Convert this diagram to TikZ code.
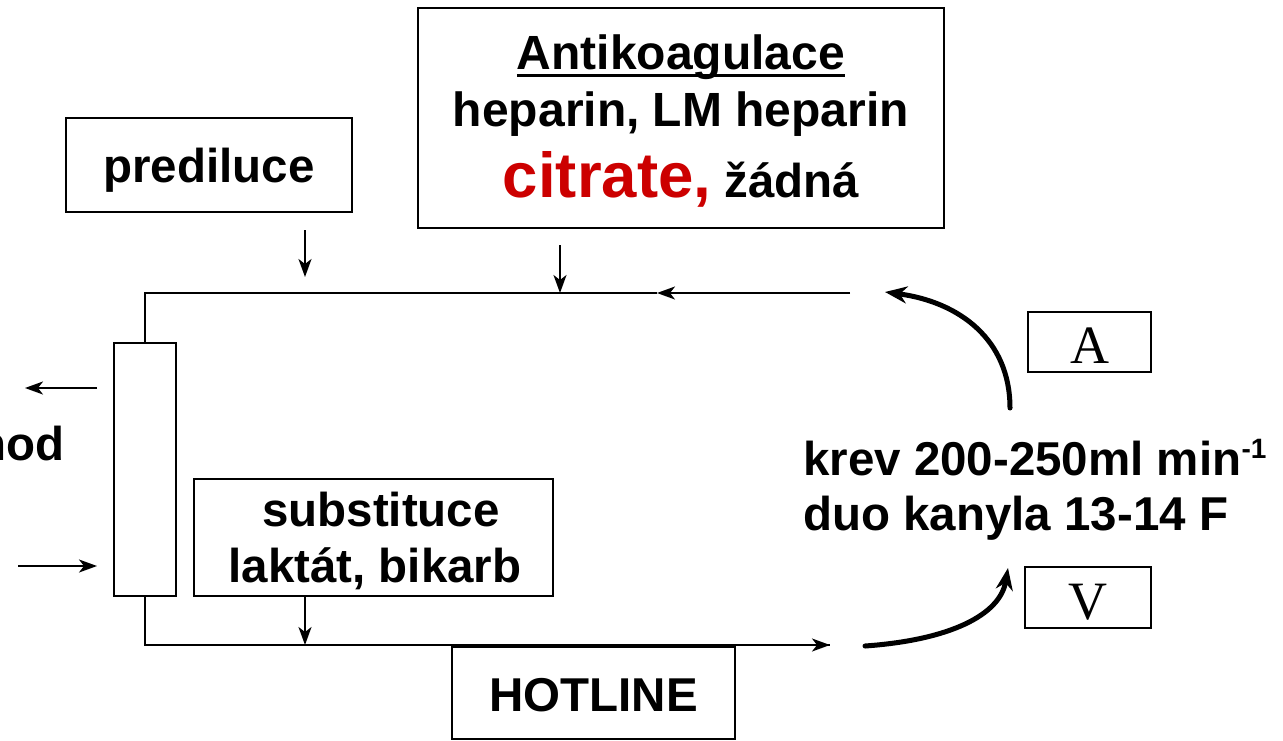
\documentclass[tikz,border=0pt]{standalone}
\usepackage{fontspec}
\setmainfont{Liberation Sans}
\newfontfamily\serifA{Liberation Serif}
\usetikzlibrary{arrows.meta}
\definecolor{citred}{RGB}{204,0,0}
\begin{document}
\begin{tikzpicture}[x=1pt,y=-1pt,
  box/.style={draw, line width=2.5pt, inner sep=0pt, anchor=center},
  thinl/.style={line width=2pt},
  tipa/.style={line width=2pt, -{Stealth[length=18pt,width=13pt,inset=5pt]}},
  bigtip/.style={line width=5pt, line cap=round, -{Stealth[length=22pt,width=17pt,inset=7pt]}},
  lbl/.style={font=\fontsize{47.5}{52}\selectfont\bfseries, inner sep=0pt},
  serl/.style={font=\fontsize{54}{58}\selectfont\serifA, inner sep=0pt}
]
\useasboundingbox (0,0) rectangle (1283,740);
% boxes
\node[box, minimum width=286pt, minimum height=94pt] (pre) at (209,165) {};
\node[box, minimum width=526pt, minimum height=220pt] (anti) at (681,118) {};
\node[box, minimum width=62pt, minimum height=253pt] (filt) at (145,469.5) {};
\node[box, minimum width=359pt, minimum height=117pt] (subst) at (373.5,537.5) {};
\node[box, minimum width=283pt, minimum height=92pt] (hot) at (593.5,693) {};
\node[box, minimum width=123pt, minimum height=60pt] (A) at (1089.5,342) {};
\node[box, minimum width=126pt, minimum height=61pt] (V) at (1088,597.5) {};
% texts
\node[lbl, anchor=base] (preT) at (209,182) {prediluce};
\node[lbl, anchor=base, font=\fontsize{48}{52}\selectfont\bfseries] (antiT1) at (681,69) {Antikoagulace};
\draw[line width=3pt] ([yshift=-6pt]antiT1.base west) -- ([yshift=-6pt]antiT1.base east);
\node[lbl, anchor=base, font=\fontsize{48}{52}\selectfont\bfseries] (antiT2) at (681,126) {heparin, LM heparin};
\node[lbl, anchor=base] (antiT3) at (681,197) {{\fontsize{63.5}{66}\selectfont\color{citred}citrate,} {\fontsize{47.5}{52}\selectfont žádná}};
\node[lbl, anchor=base] (subT1) at (381,526) {substituce};
\node[lbl, anchor=base] (subT2) at (375,582) {laktát, bikarb};
\node[lbl, anchor=base] (hotT) at (593.5,711) {HOTLINE};
\node[serl, anchor=base] (AT) at (1089.5,363) {A};
\node[serl, anchor=base] (VT) at (1088,619) {V};
\node[lbl, anchor=base west] (krev) at (803,475) {krev 200-250ml min\raisebox{17pt}{\fontsize{28}{30}\selectfont -1}};
\node[lbl, anchor=base west] (duo) at (803,530) {duo kanyla 13-14 F};
\node[lbl, anchor=base east] (nod) at (65,460) {nod};
% coordinates
\coordinate (tR) at (850,293);
\coordinate (tM) at (657,293);
\coordinate (tL) at (145,293);
\coordinate (bL) at (145,645);
\coordinate (bR) at (830,645);
\coordinate (p1) at (305,230);
\coordinate (p2) at (305,277);
\coordinate (a1) at (560,245);
\coordinate (a2) at (560,293);
\coordinate (s1) at (305,596);
\coordinate (s2) at (305,645);
\coordinate (o1) at (97,388);
\coordinate (o2) at (25,388);
\coordinate (i1) at (18,566);
\coordinate (i2) at (97,566);
\coordinate (c1a) at (1010,408);
\coordinate (c1b) at (885,292);
\coordinate (c2a) at (865,646);
\coordinate (c2b) at (1008,568);
% connectors
\draw[tipa] (tR) -- (tM);
\draw[thinl] (tM) -- (tL) -- (filt.north);
\draw[thinl] (filt.south) -- (bL) -- (bR);
\draw[tipa] (bL) -- (bR);
\draw[tipa] (p1) -- (p2);
\draw[tipa] (a1) -- (a2);
\draw[tipa] (s1) -- (s2);
\draw[tipa] (o1) -- (o2);
\draw[tipa] (i1) -- (i2);
\draw[bigtip] (c1a) .. controls (1010,340) and (960,302) .. (c1b);
\draw[bigtip] (c2a) .. controls (950,640) and (1000,615) .. (c2b);
\end{tikzpicture}
\end{document}
